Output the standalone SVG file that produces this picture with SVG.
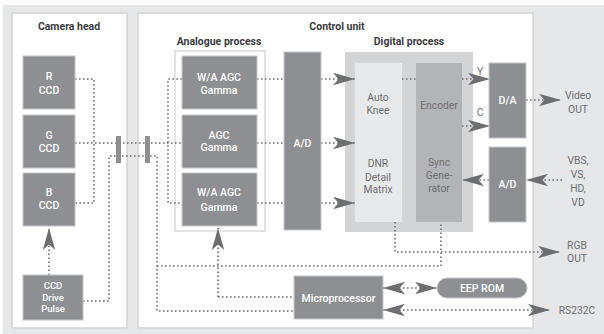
<svg xmlns="http://www.w3.org/2000/svg" width="604" height="334" viewBox="0 0 604 334">
<defs>
<style>
text{font-family:"Roboto","DejaVu Sans",sans-serif;font-size:10px;text-anchor:middle}
.title{font-weight:bold;fill:#3c3c3e;font-size:10.5px}
.wt{fill:#ffffff;font-weight:500;font-size:10.5px}
.sm{font-size:9.5px}
.gt{fill:#6d6e71;font-size:10.3px}
.panel{fill:#ffffff;stroke:#d3d4d6;stroke-width:1.5}
.box{fill:#8e8f92;stroke:#c4c5c7;stroke-width:1}
.dot{fill:none;stroke:#6d6e71;stroke-width:1.6;stroke-dasharray:1.6 2.4}
.arr{marker-end:url(#ah)}
.darr{marker-start:url(#ah);marker-end:url(#ah)}
</style>
<marker id="ah" markerUnits="userSpaceOnUse" markerWidth="23" markerHeight="13" refX="22" refY="6.5" orient="auto-start-reverse" viewBox="0 0 23 13">
<path d="M0,0.3 L22,6.5 L0,12.7 L5.5,6.5 Z" fill="#6d6e71"/>
</marker>
</defs>
<rect x="0" y="0" width="604" height="334" fill="#ffffff"/>
<rect x="3" y="5" width="601" height="329" fill="#e6e7e8"/>
<g id="camera-head">
<rect class="panel" x="12" y="13" width="115" height="315"/>
<text class="title" x="69" y="30">Camera head</text>
</g>
<g id="control-unit">
<rect class="panel" x="138" y="13" width="395" height="315"/>
<text class="title" x="337" y="30">Control unit</text>
</g>
<g id="analogue-process">
<rect x="175" y="51" width="90" height="180" fill="#ffffff" stroke="#c6c7c9" stroke-width="1"/>
<text class="title" x="219" y="45">Analogue process</text>
</g>
<g id="digital-process">
<rect x="345" y="52" width="128" height="180" fill="#d3d4d6"/>
<text class="title" x="409" y="45">Digital process</text>
</g>
<g id="connectors">
<path class="dot" d="M75,79 H94 V203 H75"/>
<path class="dot" d="M75,143 H182"/>
<path class="dot" d="M182,79 H168 V203 H182"/>
<path class="dot" d="M83,301 H109 V156 H157 V311 H294"/>
<path class="dot" d="M157,266 H441 V222"/>
<path class="dot arr" d="M218,297 V228"/>
<path class="dot" d="M218,297 H294"/>
<path class="dot arr" d="M49,275 V228"/>
<path class="dot" d="M257,79 H284 M257,143 H284 M257,203 H284"/>
<path class="dot arr" d="M321,79 H355"/>
<path class="dot arr" d="M321,143 H355"/>
<path class="dot arr" d="M321,203 H355"/>
<path class="dot" d="M402,79 H416"/>
<path class="dot arr" d="M462,79 H490"/>
<path class="dot arr" d="M462,126 H490"/>
<path class="dot arr" d="M526,100 H561"/>
<path class="dot arr" d="M562,180 H526"/>
<path class="dot arr" d="M489,180 H462"/>
<path class="dot arr" d="M395,222 V252 H560"/>
<path class="dot darr" d="M383,288 H437"/>
<path class="dot darr" d="M383,310 H550"/>
<rect x="116" y="136" width="5" height="27" fill="#8e8f92"/>
<rect x="145" y="136" width="5" height="27" fill="#8e8f92"/>
<text class="gt" x="480" y="75">Y</text>
<text class="gt" x="480" y="116">C</text>
</g>
<g id="r-ccd">
<rect class="box" x="23" y="56" width="52" height="53"/>
<text class="wt" x="49" y="80">R</text>
<text class="wt" x="49" y="94">CCD</text>
</g>
<g id="g-ccd">
<rect class="box" x="23" y="115" width="52" height="53"/>
<text class="wt" x="49" y="139">G</text>
<text class="wt" x="49" y="152">CCD</text>
</g>
<g id="b-ccd">
<rect class="box" x="23" y="173" width="52" height="53"/>
<text class="wt" x="49" y="196">B</text>
<text class="wt" x="49" y="209">CCD</text>
</g>
<g id="ccd-drive-pulse">
<rect class="box" x="23" y="275" width="60" height="45"/>
<text class="wt sm" x="53" y="289">CCD</text>
<text class="wt sm" x="53" y="300.5">Drive</text>
<text class="wt sm" x="53" y="312">Pulse</text>
</g>
<g id="wa-agc-gamma-1">
<rect class="box" x="182" y="56" width="75" height="53"/>
<text class="wt" x="219" y="81">W/A AGC</text>
<text class="wt" x="219" y="94">Gamma</text>
</g>
<g id="agc-gamma">
<rect class="box" x="182" y="115" width="75" height="53"/>
<text class="wt" x="219" y="139">AGC</text>
<text class="wt" x="219" y="151">Gamma</text>
</g>
<g id="wa-agc-gamma-2">
<rect class="box" x="182" y="173" width="75" height="53"/>
<text class="wt" x="219" y="196">W/A AGC</text>
<text class="wt" x="219" y="211">Gamma</text>
</g>
<g id="ad-main">
<rect class="box" x="284" y="52" width="37" height="178"/>
<text class="wt" x="302.5" y="147">A/D</text>
</g>
<g id="auto-knee">
<rect x="355" y="63" width="47" height="159" fill="#e8e9ea"/>
<text class="gt" x="378" y="101">Auto</text>
<text class="gt" x="378" y="114">Knee</text>
<text class="gt" x="378" y="167">DNR</text>
<text class="gt" x="378" y="181">Detail</text>
<text class="gt" x="378" y="193">Matrix</text>
</g>
<g id="encoder">
<rect x="416" y="63" width="46" height="159" fill="#b3b4b7"/>
<text class="gt" x="439" y="109">Encoder</text>
<text class="gt" x="439" y="166">Sync</text>
<text class="gt" x="439" y="179">Gene-</text>
<text class="gt" x="439" y="192">rator</text>
</g>
<g id="da">
<rect class="box" x="489" y="63" width="37" height="75"/>
<text class="wt" x="507.5" y="104">D/A</text>
</g>
<g id="ad-sync">
<rect class="box" x="489" y="147" width="37" height="75"/>
<text class="wt" x="507.5" y="188">A/D</text>
</g>
<g id="microprocessor">
<rect class="box" x="294" y="276" width="89" height="43"/>
<text class="wt" x="338.5" y="302">Microprocessor</text>
</g>
<g id="eep-rom">
<rect class="box" x="437" y="278" width="90" height="20" rx="10" ry="10"/>
<text class="wt" x="482" y="292">EEP ROM</text>
</g>
<g id="outputs">
<text class="gt" x="578" y="99">Video</text>
<text class="gt" x="578" y="113">OUT</text>
<text class="gt" x="578" y="164">VBS,</text>
<text class="gt" x="578" y="178">VS,</text>
<text class="gt" x="578" y="192">HD,</text>
<text class="gt" x="578" y="206">VD</text>
<text class="gt" x="577" y="249">RGB</text>
<text class="gt" x="577" y="262">OUT</text>
<text class="gt" x="577" y="314">RS232C</text>
</g>
</svg>
